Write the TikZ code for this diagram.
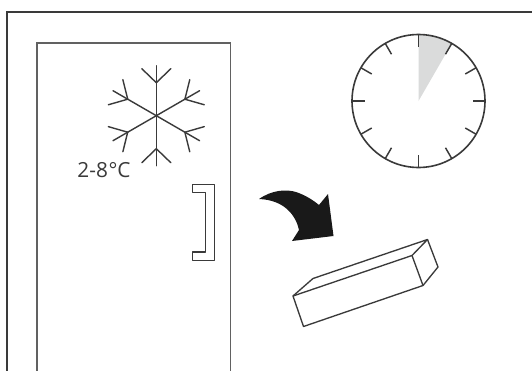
\documentclass[tikz,border=0pt]{standalone}
\usepackage{fontspec}
\setmainfont{Open Sans}
\definecolor{ink}{HTML}{3A3A3A}
\definecolor{wedge}{HTML}{DADBDB}
\tikzset{
  x=0.75pt,y=-0.75pt,
  frameline/.style={draw=ink,line width=1.5pt},
  doorline/.style={draw=ink!80,line width=1.1pt},
  thin ink/.style={draw=ink,line width=1pt,line join=round},
  flake/.style={draw=ink,line width=1.05pt,line cap=round},
  tick/.style={draw=ink,line width=1.1pt},
}
\begin{document}
\begin{tikzpicture}
\useasboundingbox (0,0) rectangle (532,371);
\fill[white] (0,0) rectangle (532,371);
% outer frame
\coordinate (fbl) at (7,372); \coordinate (ftl) at (7,11.5); \coordinate (ftr) at (532,11.5);
\draw[frameline] (fbl) -- (ftl) -- (ftr);
% door
\coordinate (dbl) at (37,372); \coordinate (dtl) at (37,43); \coordinate (dtr) at (230.5,43); \coordinate (dbr) at (230.5,372);
\draw[doorline] (dbl) -- (dtl) -- (dtr) -- (dbr);
% handle
\draw[thin ink,line width=0.85pt] (192.5,184.5) -- (214.5,184.5) -- (214.5,260.5) -- (192.5,260.5) -- (192.5,252) -- (205.5,252) -- (205.5,192.5) -- (192.5,192.5) -- cycle;
% snowflake
\coordinate (sc) at (156.3,115.7);
\begin{scope}[shift={(sc)}]
\foreach \a in {90,30,-30,-90,-150,150}{
  \begin{scope}[rotate=\a]
    \draw[flake] (0,0) -- (50,0);
    \draw[flake] (33,0) -- (47,14.5);
    \draw[flake] (33,0) -- (47,-14.5);
  \end{scope}
}
\end{scope}
\node[inner sep=0pt,font=\fontsize{15.6}{17}\selectfont,text=ink] (temp) at (104,170) {2-8\kern0.5pt°C};
% clock
\coordinate (cc) at (418.5,101);
\fill[wedge] (cc) -- (418.5,35) arc[start angle=-90,end angle=-60,radius=66] -- cycle;
\draw[ink,line width=1.2pt] (cc) circle[radius=66.5];
\begin{scope}[shift={(cc)}]
\foreach \a in {0,30,...,330}{
  \draw[tick] (\a:66) -- (\a:54);
}
\end{scope}
% arrow
\fill[black!90] (259,199) .. controls (272,190) and (286,189) .. (296,192)
  .. controls (305,195) and (313,200) .. (319,205)
  -- (328,194) -- (333.5,236) -- (292,241) -- (299,230)
  .. controls (296,216) and (285,200) .. (259,199) -- cycle;
% box
\coordinate (a) at (293,296); \coordinate (b) at (303.5,326.5); \coordinate (c) at (423,285.5); \coordinate (d) at (412,255.5);
\coordinate (e) at (313,278.5); \coordinate (f) at (427.5,239.5); \coordinate (g) at (438,267);
\draw[thin ink] (a) -- (b) -- (c) -- (d) -- cycle;
\draw[thin ink] (a) -- (e) -- (f) -- (d);
\draw[thin ink] (f) -- (g) -- (c);
\end{tikzpicture}
\end{document}
